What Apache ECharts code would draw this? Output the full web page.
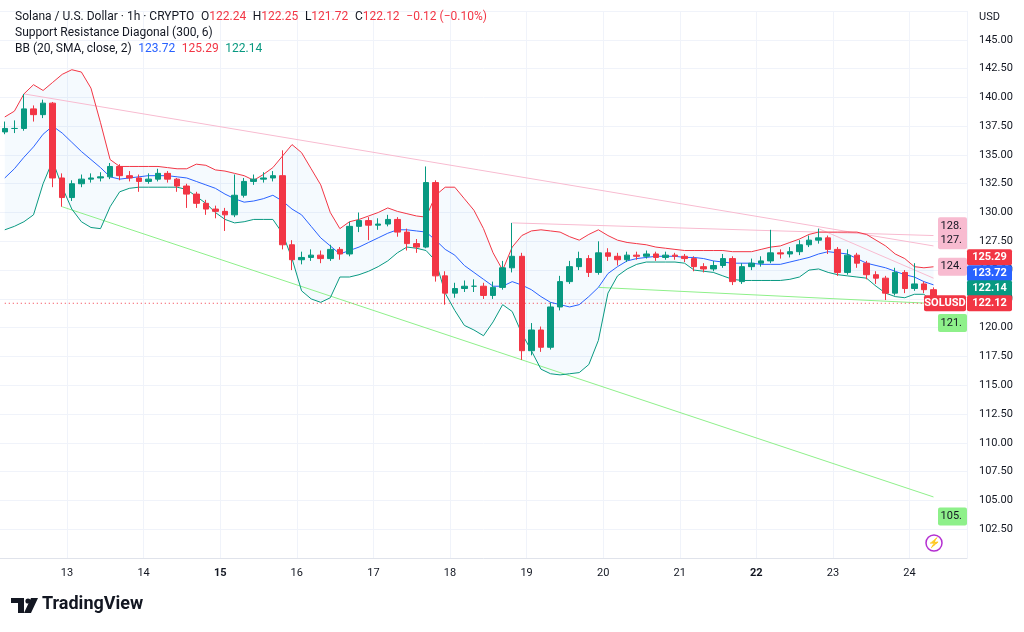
<!DOCTYPE html>
<html><head><meta charset="utf-8">
<script src="https://cdn.jsdelivr.net/npm/echarts@6/dist/echarts.min.js"></script>
<style>html,body{margin:0;padding:0;background:#fff}#c{width:1024px;height:632px}</style>
</head><body><div id="c"></div>
<script>
// 3-hour buckets starting Jan 12 03:00
const firstOpen = 137.0;
const closes = [137.3,137.3,139.0,138.5,139.5,133.0,131.3,132.5,132.9,133.0,
133.1,134.0,133.2,133.0,132.7,132.9,133.4,132.9,132.3,131.6,
130.8,130.3,130.1,129.8,131.5,132.7,132.9,133.0,133.2,127.2,
125.9,126.1,126.3,126.0,126.8,126.4,128.8,129.3,128.9,129.0,
129.4,128.3,127.3,127.0,132.6,124.5,123.0,123.4,123.6,123.6,
122.8,123.5,125.2,126.2,118.0,119.8,118.3,121.8,124.0,125.3,
126.0,124.8,126.5,126.2,125.9,126.3,126.2,126.4,126.1,126.3,
126.2,126.0,125.3,125.1,125.4,126.0,124.0,125.3,125.6,125.8,
126.5,126.4,126.6,127.2,127.6,127.8,126.8,124.8,126.3,125.6,
124.6,124.3,123.0,124.8,123.4,123.8,123.3,122.12];
const highs = [137.9,138.0,140.3,139.3,139.8,139.6,133.4,132.8,133.3,133.4,
133.5,134.3,134.2,133.6,133.3,133.4,133.8,133.6,133.0,132.5,
131.8,131.1,130.6,130.4,133.3,133.0,133.3,133.5,133.6,135.4,
127.6,126.6,126.8,126.7,127.2,127.0,129.2,130.0,129.6,129.5,
129.8,129.6,128.6,127.7,134.0,132.8,124.9,123.9,124.1,124.2,
123.9,124.0,125.8,129.1,126.5,120.4,120.1,122.2,124.5,125.8,
126.6,126.3,127.5,126.9,126.5,126.6,126.6,126.7,126.6,126.6,
126.5,126.4,126.2,125.6,125.8,126.4,126.2,125.6,126.0,126.2,
128.5,126.8,127.0,127.6,128.0,128.6,128.0,127.0,126.8,126.5,
125.8,124.9,124.5,125.2,125.0,125.6,124.0,123.5];
const lows = [136.8,136.9,137.1,137.9,138.2,132.2,130.5,131.0,132.2,132.6,
132.7,132.9,132.8,132.7,131.8,132.5,132.7,132.6,131.8,130.4,
130.4,129.8,129.5,128.4,129.6,131.3,132.4,132.6,132.7,126.8,
125.0,125.5,125.8,125.6,125.8,125.9,126.2,128.3,127.6,128.5,
128.8,127.9,126.7,126.5,126.9,124.0,122.0,122.6,123.1,123.1,
122.5,122.5,123.3,124.8,117.2,117.6,117.9,118.1,121.5,123.8,
125.0,124.4,124.6,125.8,125.4,125.7,125.9,126.0,125.8,125.9,
125.9,125.7,124.9,124.8,124.9,125.2,123.7,123.8,125.0,125.3,
125.6,126.0,126.1,126.3,127.0,127.3,126.4,124.5,124.6,125.2,
124.2,123.8,122.4,122.8,123.0,123.2,123.0,121.72];
const bbUpper = [138.3,138.8,140.3,141.1,140.6,141.3,142.0,142.4,142.2,140.8,
137.8,134.6,134.0,134.0,134.0,134.0,134.0,133.9,133.8,133.8,
134.2,134.1,133.7,133.6,133.4,133.2,132.8,133.3,133.9,134.9,
135.9,135.2,133.8,132.4,130.0,128.6,129.2,129.4,129.7,130.0,
130.4,130.1,129.9,129.7,129.6,131.5,132.2,132.2,131.2,130.2,
128.6,126.5,125.0,127.0,128.0,128.4,128.5,128.4,128.3,127.9,
127.6,128.1,128.5,128.0,127.6,127.4,127.3,127.2,127.0,126.9,
126.8,126.7,126.7,126.7,126.7,126.7,126.6,126.6,126.6,126.8,
127.0,127.1,127.4,127.7,128.1,128.3,128.3,128.3,128.3,128.3,
128.1,127.6,127.1,126.4,126.0,125.3,125.2,125.29];
const bbMid = [133.0,133.8,134.8,135.7,136.8,137.5,136.9,136.1,135.3,134.6,
133.9,133.1,132.9,133.0,133.1,133.2,133.2,133.2,133.1,133.0,
132.7,132.4,132.1,131.6,131.2,130.9,131.0,131.2,131.5,131.0,
130.3,129.8,128.8,127.8,127.1,126.4,126.7,127.0,127.4,127.8,
128.2,128.5,128.5,128.4,128.3,127.6,126.8,126.3,125.4,124.8,
124.2,123.6,123.6,124.0,123.7,123.3,122.7,122.2,122.0,121.8,
122.0,122.7,123.5,124.7,125.3,125.8,126.0,126.1,126.2,126.2,
126.2,126.1,126.1,126.0,125.8,125.7,125.6,125.6,125.6,125.5,
125.5,125.5,125.7,125.9,126.1,126.4,126.6,126.5,126.4,126.0,
125.6,125.4,125.2,124.9,124.6,124.4,124.0,123.72];
const bbLower = [128.5,128.8,129.2,129.8,132.5,134.5,132.2,130.3,129.2,128.7,
128.6,130.5,131.8,132.1,132.2,132.2,132.2,132.2,132.2,132.0,
131.4,130.8,130.0,129.4,129.1,129.2,129.4,129.4,129.4,128.2,
126.0,123.2,122.5,122.2,122.6,124.4,124.4,124.6,124.9,125.3,
125.8,126.5,127.0,126.9,126.7,125.8,123.0,121.5,120.2,119.8,
119.3,120.5,122.0,121.4,119.5,118.0,116.4,116.0,115.9,116.0,
116.1,116.8,118.9,123.0,124.5,125.1,125.5,125.7,125.7,125.7,
125.7,125.6,125.0,124.9,124.8,124.5,124.2,124.1,124.1,124.1,
124.1,124.1,124.2,124.4,125.0,125.1,124.8,124.6,124.5,124.4,
124.3,123.6,123.0,122.7,122.6,122.9,122.9,122.14];
const resistance1 = [[2,140.3],[97,127.1]];
const resistance2 = [[53,129.1],[97,128.0]];
const resistance3 = [[85,128.6],[97,124.3]];
const support1 = [[6,130.5],[97,105.3]];
const support2 = [[62,123.5],[97,122.1]];
const yTicks = [102.5,105,107.5,110,112.5,115,117.5,120,122.5,125,127.5,130,132.5,135,137.5,140,142.5,145];
const boldDays = [15,22];
const nBuckets = 101;

const cats = [];
for (let i=0;i<nBuckets;i++){ const h=3+3*i; cats.push(String(12+Math.floor(h/24))); }
const ohlc = closes.map((c,i)=>[i===0?firstOpen:closes[i-1], c, lows[i], highs[i]]);
const diff = bbUpper.map((u,i)=>+(u-bbLower[i]).toFixed(2));
const isDay = i => i>=7 && (i-7)%8===0;
const last = closes[closes.length-1];

const chart = echarts.init(document.getElementById('c'));
const F = 'Roboto, "Noto Sans", sans-serif';
const line = (name,data,color,extra={}) => Object.assign({type:'line',name,data,symbol:'none',silent:true,lineStyle:{color,width:1},z:3},extra);
chart.setOption({
  animation:false,
  textStyle:{fontFamily:F},
  grid:{left:-3,right:57,top:11,bottom:74},
  xAxis:{type:'category',data:cats,boundaryGap:true,
    axisLine:{show:true,lineStyle:{color:'#e0e3eb'}},axisTick:{show:false},
    axisLabel:{interval:(i)=>isDay(i),margin:10,fontSize:11,color:'#131722',padding:[0,9.6,0,0],
      formatter:(v)=>{const d=+v;return boldDays.includes(d)?'{b|'+v+'}':v;},
      rich:{b:{fontWeight:'bold',fontSize:11,color:'#131722'}}},
    splitLine:{show:true,interval:(i)=>isDay(i),lineStyle:{color:'#f0f3fa'}}},
  yAxis:{type:'value',position:'right',min:100,max:147.5,interval:2.5,scale:true,
    axisLine:{show:false},axisTick:{show:false},
    axisLabel:{margin:12,fontSize:11,color:'#131722',formatter:v=>yTicks.includes(v)?v.toFixed(2):''},
    splitLine:{lineStyle:{color:'#f0f3fa'}}},
  series:[
    line('base',bbLower,'transparent',{stack:'bb',lineStyle:{opacity:0},z:1}),
    line('band',diff,'transparent',{stack:'bb',lineStyle:{opacity:0},areaStyle:{color:'rgba(33,150,243,0.06)'},z:1}),
    line('upper',bbUpper,'#f23645'),
    line('mid',bbMid,'#2962ff'),
    line('lower',bbLower,'#089981'),
    line('r1',resistance1,'#f8bbd0',{z:2}),
    line('r2',resistance2,'#f8bbd0',{z:2}),
    line('r3',resistance3,'#f8bbd0',{z:2}),
    line('s1',support1,'#8ef08a',{z:2}),
    line('s2',support2,'#8ef08a',{z:2}),
    line('lastPrice',[[0,last],[nBuckets-1,last]],'#f23645',{z:2,lineStyle:{color:'#f23645',width:1,type:[1,3]}}),
    {type:'candlestick',data:ohlc,barWidth:6,z:5,
      itemStyle:{color:'#089981',color0:'#f23645',borderColor:'#089981',borderColor0:'#f23645',borderWidth:1}}
  ]
});

const yPix = v => chart.convertToPixel({yAxisIndex:0}, v);
const g = [];
g.push({type:'text',left:15,top:11,style:{text:'{d|Solana / U.S. Dollar · 1h · CRYPTO}  {d|O}{r|122.24}  {d|H}{r|122.25}  {d|L}{r|121.72}  {d|C}{r|122.12}  {r|−0.12 (−0.10%)}',
  rich:{d:{fill:'#131722',fontSize:12,fontFamily:F},r:{fill:'#f23645',fontSize:12,fontFamily:F}}}});
g.push({type:'text',left:15,top:27,style:{text:'Support Resistance Diagonal (300, 6)',fill:'#131722',fontSize:12,fontFamily:F}});
g.push({type:'text',left:15,top:43,style:{text:'{d|BB (20, SMA, close, 2)}  {b|123.72}  {r|125.29}  {g|122.14}',
  rich:{d:{fill:'#131722',fontSize:12,fontFamily:F},b:{fill:'#2962ff',fontSize:12,fontFamily:F},r:{fill:'#f23645',fontSize:12,fontFamily:F},g:{fill:'#089981',fontSize:12,fontFamily:F}}}});
g.push({type:'text',left:979,top:12,style:{text:'USD',fill:'#131722',fontSize:11,fontFamily:F}});
const tagAt = (x,y,txt,bg,fg,w) => {
  g.push({type:'rect',shape:{x:x,y:y-8,width:w,height:16,r:2},style:{fill:bg},z:20});
  g.push({type:'text',x:x+w/2,y:y,style:{text:txt,fill:fg,fontSize:11,fontWeight:'bold',fontFamily:F,align:'center',verticalAlign:'middle'},z:21});
};
const yl = yPix(last);
tagAt(967,yl-46,'125.29','#f23645','#fff',45);
tagAt(967,yl-30,'123.72','#2962ff','#fff',45);
tagAt(967,yl-15,'122.14','#089981','#fff',45);
tagAt(967,yl,last.toFixed(2),'#f23645','#fff',45);
tagAt(924,yl,'SOLUSD','#f23645','#fff',42);
const ttag = (y,txt,bg) => {
  g.push({type:'rect',shape:{x:938,y:y-9,width:29,height:18,r:2},style:{fill:bg},z:18});
  g.push({type:'text',x:962,y:y,style:{text:txt,fill:'#131722',fontSize:11,fontFamily:F,align:'right',verticalAlign:'middle'},z:19});
};
ttag(yPix(128.8),'128.','#f8bbd0');
ttag(yPix(127.6),'127.','#f8bbd0');
ttag(yPix(125.3),'124.','#f8bbd0');
ttag(yPix(120.4),'121.','#8ef08a');
ttag(yPix(103.6),'105.','#8ef08a');
g.push({type:'circle',shape:{cx:934,cy:543,r:8},style:{fill:'#fff',stroke:'#b42fd1',lineWidth:1.5},z:20});
g.push({type:'text',x:934,y:543,style:{text:'⚡',fill:'#b42fd1',fontSize:10,align:'center',verticalAlign:'middle'},z:21});
g.push({type:'polygon',shape:{points:[[11,598],[24,598],[24,613],[18,613],[18,603],[11,603]]},style:{fill:'#131722'}});
g.push({type:'circle',shape:{cx:28,cy:601,r:2.6},style:{fill:'#131722'}});
g.push({type:'polygon',shape:{points:[[31,598],[38,598],[31,613],[24,613]]},style:{fill:'#131722'}});
g.push({type:'text',left:42,top:595,style:{text:'TradingView',fill:'#131722',fontSize:18,fontWeight:'bold',fontFamily:F}});
chart.setOption({graphic:g});
</script></body></html>
